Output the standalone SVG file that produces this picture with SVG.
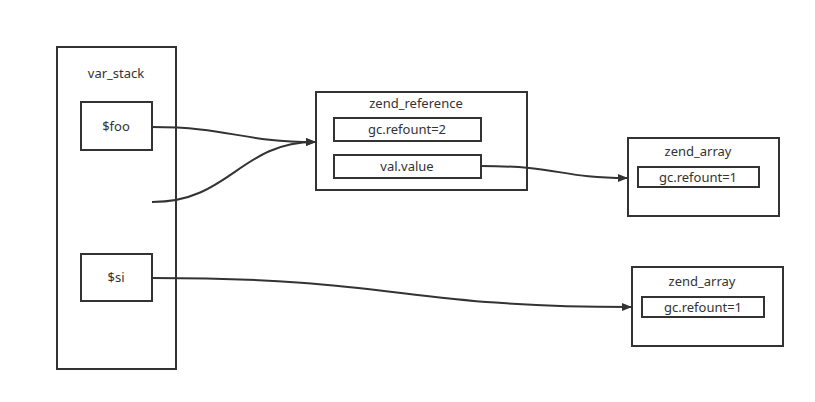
<svg xmlns="http://www.w3.org/2000/svg" width="815" height="402" viewBox="0 0 815 402">
<style>
.box{fill:#fff;stroke:#333;stroke-width:2}
.t{font-family:"Noto Sans","DejaVu Sans",sans-serif;font-size:13px;fill:#333;text-anchor:middle;dominant-baseline:central}
.c{fill:none;stroke:#333;stroke-width:2}
</style>
<defs>
<marker id="ah" markerWidth="10" markerHeight="8" refX="9" refY="4" orient="auto" markerUnits="userSpaceOnUse">
<path d="M0,0 L10,4 L0,8 Z" fill="#333"/>
</marker>
</defs>
<rect width="815" height="402" fill="#fff"/>
<g id="var_stack">
<rect class="box" x="57" y="47" width="119" height="322"/>
<text class="t" x="116" y="73">var_stack</text>
</g>
<g id="foo">
<rect class="box" x="81" y="102" width="71" height="48"/>
<text class="t" x="116" y="126">$foo</text>
</g>
<g id="si">
<rect class="box" x="81" y="254" width="71" height="47"/>
<text class="t" x="116" y="277">$si</text>
</g>
<g id="zend_reference">
<rect class="box" x="316" y="92" width="211" height="98"/>
<text class="t" x="416" y="103">zend_reference</text>
<rect class="box" x="334" y="118" width="147" height="23"/>
<text class="t" x="407" y="129">gc.refount=2</text>
<rect class="box" x="334" y="155" width="147" height="23"/>
<text class="t" x="407" y="166">val.value</text>
</g>
<g id="zend_array1">
<rect class="box" x="628" y="138" width="151" height="78"/>
<text class="t" x="698" y="151">zend_array</text>
<rect class="box" x="638" y="167" width="121" height="20"/>
<text class="t" x="698" y="177">gc.refount=1</text>
</g>
<g id="zend_array2">
<rect class="box" x="632" y="267" width="151" height="79"/>
<text class="t" x="702" y="281">zend_array</text>
<rect class="box" x="642" y="297" width="122" height="20"/>
<text class="t" x="703" y="307">gc.refount=1</text>
</g>
<g id="connectors">
<path class="c" d="M152,127 C230,127 240,142 315,142" marker-end="url(#ah)"/>
<path class="c" d="M152,202 C230,202 240,142 315,142" marker-end="url(#ah)"/>
<path class="c" d="M481,166 C560,166 560,178 627,178" marker-end="url(#ah)"/>
<path class="c" d="M152,278 C400,278 400,307 631,307" marker-end="url(#ah)"/>
</g>
</svg>
